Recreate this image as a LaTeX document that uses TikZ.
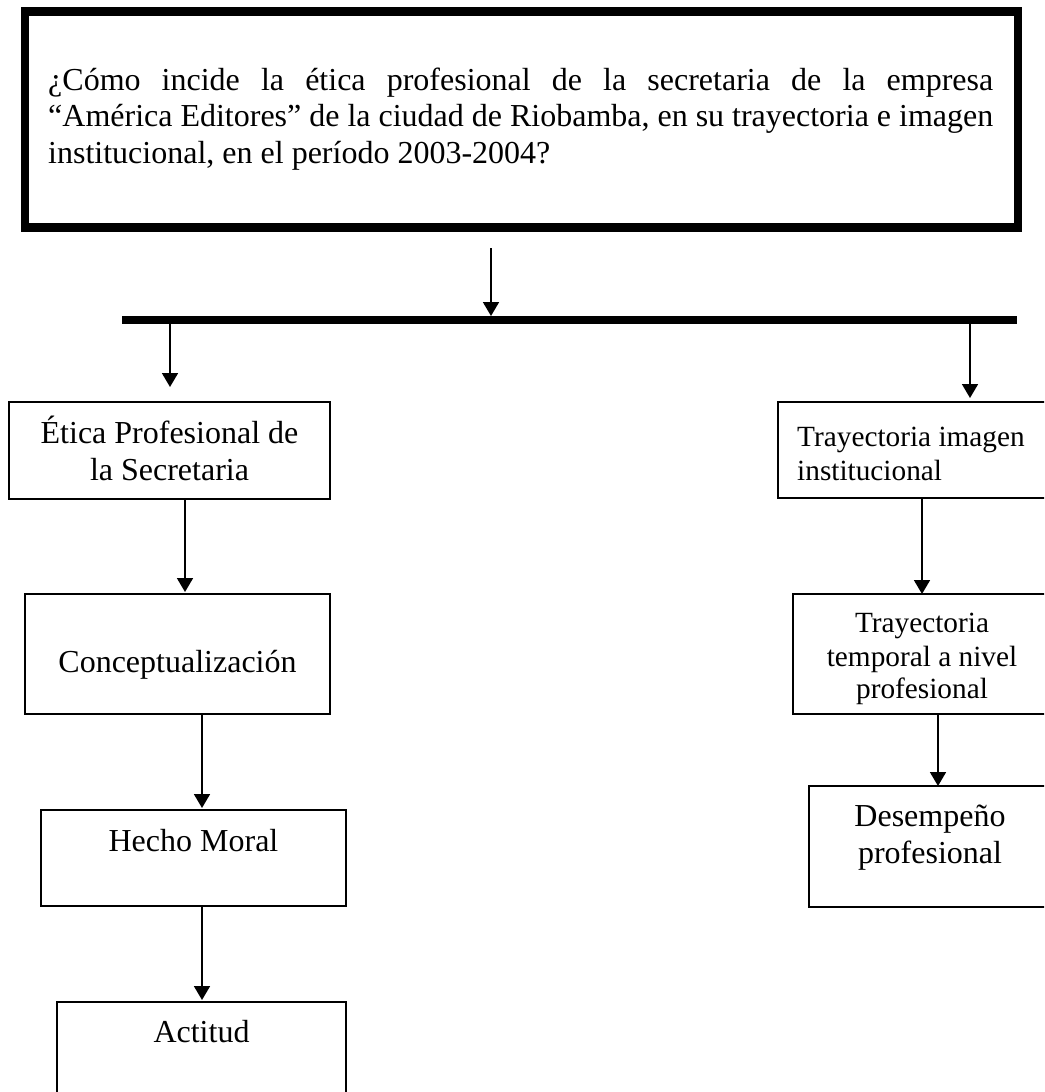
\documentclass[tikz,border=0pt]{standalone}
\usepackage{fontspec}
\setmainfont{Liberation Serif}
\usetikzlibrary{arrows.meta}
\begin{document}
\begin{tikzpicture}[x=1pt,y=-1pt,
  box/.style={draw, line width=1.8pt, inner sep=0pt, outer sep=0pt, rectangle},
  qbox/.style={draw, line width=8.5pt, inner sep=0pt, outer sep=0pt, rectangle, line join=miter},
  arr/.style={line width=1.8pt, -{Triangle[width=16pt,length=14pt]}},
  lbl/.style={anchor=base, inner sep=0pt, font=\fontsize{32}{37}\selectfont},
  lbls/.style={anchor=base, inner sep=0pt, font=\fontsize{29.3}{33.7}\selectfont},
  lblw/.style={anchor=base west, inner sep=0pt, font=\fontsize{29.3}{33.7}\selectfont},
]
\useasboundingbox (0,0) rectangle (1044,1092);
\clip (0,0) rectangle (1044,1092);

% question box
\node[qbox, minimum width=993pt, minimum height=216pt] (Q) at (521.5,119.5) {};
\node[anchor=base west, inner sep=0pt, text width=945pt, align=justify,
      font=\fontsize{32}{36.5}\selectfont] (Qt) at (48,90)
  {\hyphenpenalty=10000 ¿Cómo incide la ética profesional de la secretaria de la empresa\linebreak
   “América Editores” de la ciudad de Riobamba, en su trayectoria e imagen\linebreak
   institucional, en el período 2003-2004?};

% bar
\coordinate (barL) at (122,320);
\coordinate (barR) at (1017,320);
\draw[line width=8pt] (barL) -- (barR);

% left column boxes
\node[box, minimum width=321pt, minimum height=97pt] (B1) at (169.5,450.5) {};
\node[lbl] (B1a) at (169.5,443) {Ética Profesional de};
\node[lbl] (B1b) at (169.5,480) {la Secretaria};

\node[box, minimum width=305pt, minimum height=120pt] (B2) at (177.5,654) {};
\node[lbl] (B2a) at (177.5,672) {Conceptualización};

\node[box, minimum width=305pt, minimum height=96pt] (B3) at (193.5,858) {};
\node[lbl] (B3a) at (193.5,851) {Hecho Moral};

\node[box, minimum width=289pt, minimum height=110pt] (B4) at (201.5,1057) {};
\node[lbl] (B4a) at (201.5,1042) {Actitud};

% right column boxes
\node[box, minimum width=272pt, minimum height=96pt] (R1) at (914,450) {};
\node[lblw] (R1a) at (797,446) {Trayectoria imagen};
\node[lblw] (R1b) at (797,480) {institucional};

\node[box, minimum width=257pt, minimum height=120pt] (R2) at (921.5,654) {};
\node[lbls] (R2a) at (922,632) {Trayectoria};
\node[lbls] (R2b) at (922,666) {temporal a nivel};
\node[lbls] (R2c) at (922,698) {profesional};

\node[box, minimum width=241pt, minimum height=121pt] (R3) at (929.5,846.5) {};
\node[lbl] (R3a) at (930,826) {Desempeño};
\node[lbl] (R3b) at (930,863) {profesional};

% connector x positions
\coordinate (qarr) at (491,248);
\coordinate (cL) at (170,0);
\coordinate (cR) at (970,0);
\coordinate (c1) at (185,0);
\coordinate (c2) at (202,0);
\coordinate (c3) at (922,0);
\coordinate (c4) at (938,0);

\draw[arr, shorten >=4pt] (qarr) -- (qarr |- barL);
\draw[arr, shorten >=15pt] (barL -| cL) -- (B1.north -| cL);
\draw[arr, shorten >=4pt] (barL -| cR) -- (R1.north -| cR);
\draw[arr, shorten >=2pt] (B1.south -| c1) -- (B2.north -| c1);
\draw[arr, shorten >=2pt] (B2.south -| c2) -- (B3.north -| c2);
\draw[arr, shorten >=2pt] (B3.south -| c2) -- (B4.north -| c2);
\draw[arr] (R1.south -| c3) -- (R2.north -| c3);
\draw[arr] (R2.south -| c4) -- (R3.north -| c4);
\end{tikzpicture}
\end{document}
